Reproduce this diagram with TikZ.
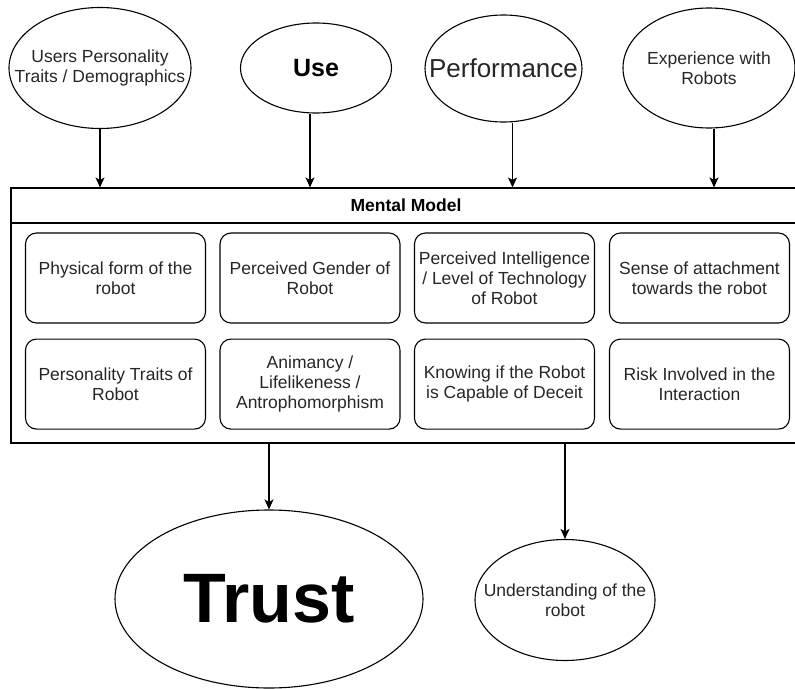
\documentclass[tikz,border=0pt]{standalone}
\usepackage{fontspec}
\setmainfont{Liberation Sans}
\usetikzlibrary{shapes.geometric,arrows.meta,positioning}

\begin{document}
\begin{tikzpicture}[x=1pt, y=-1pt, line width=1.1pt,
  every node/.style={align=center, text=black!85, font=\fontsize{17.5}{20}\selectfont},
  oval/.style={draw, ellipse, inner xsep=-40pt, inner ysep=-10pt},
  factor/.style={draw, rectangle, rounded corners=11pt, minimum width=180pt, minimum height=90pt, inner sep=2pt},
  arr/.style={-{Stealth[length=10pt,width=9pt,inset=2.5pt]}}]
\useasboundingbox (0,0) rectangle (795,688);

\node[oval, minimum width=182pt, minimum height=121pt] (usr) at (100,68) {Users Personality\\Traits / Demographics};
\node[oval, minimum width=151pt, minimum height=90pt, font=\bfseries\fontsize{25}{28}\selectfont, text=black] (use) at (316,68) {Use};
\node[oval, minimum width=157pt, minimum height=107pt, font=\fontsize{26}{30}\selectfont] (perf) at (503.5,68.5) {Performance};
\node[oval, minimum width=172pt, minimum height=120pt] (exp) at (709,68) {Experience with\\Robots};

\node[draw, rectangle, minimum width=790pt, minimum height=255pt] (mm) at (406,315.5) {};
\node[font=\bfseries\fontsize{17.5}{20}\selectfont, text=black] (mmtitle) at (406,205.5) {Mental Model};
\draw (mm.west |- 0,223) -- (mm.east |- 0,223);

\node[factor] (form) at (115.5,278) {Physical form of the\\robot};
\node[factor] (gender) at (310,278) {Perceived Gender of\\Robot};
\node[factor] (intel) at (504.5,278) {Perceived Intelligence\\/ Level of Technology\\of Robot};
\node[factor] (attach) at (699.5,278) {Sense of attachment\\towards the robot};
\node[factor, below=15pt of form] (pers) {Personality Traits of\\Robot};
\node[factor, below=15pt of gender] (anim) {Animancy /\\Lifelikeness /\\Antrophomorphism};
\node[factor, below=15pt of intel] (deceit) {Knowing if the Robot\\is Capable of Deceit};
\node[factor, below=15pt of attach] (risk) {Risk Involved in the\\Interaction};

\node[oval, minimum width=308pt, minimum height=178pt, font=\bfseries\fontsize{70}{76}\selectfont, text=black] (trust) at (269,599) {Trust};
\node[oval, minimum width=180pt, minimum height=121pt] (under) at (565,600) {Understanding of the\\robot};

\draw[arr] (usr) -- (usr |- mm.north);
\draw[arr] ([xshift=-6pt]use.south) -- ([xshift=-6pt]use.south |- mm.north);
\draw[arr] ([xshift=9pt]perf.south) -- ([xshift=9pt]perf.south |- mm.north);
\draw[arr] ([xshift=5pt]exp.south) -- ([xshift=5pt]exp.south |- mm.north);
\draw[arr] (mm.south -| trust.north) -- (trust.north);
\draw[arr] (mm.south -| under.north) -- (under.north);
\end{tikzpicture}
\end{document}
